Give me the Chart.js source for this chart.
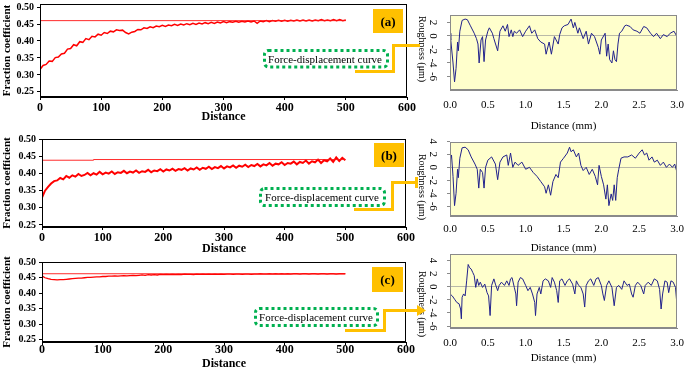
<!DOCTYPE html>
<html>
<head>
<meta charset="utf-8">
<script src="https://cdn.jsdelivr.net/npm/chart.js@4.4.1/dist/chart.umd.min.js"></script>
<style>
  body { margin: 0; background: #fff; }
  #wrap { position: relative; width: 685px; height: 371px; overflow: hidden; background: #fff; }
  #wrap canvas { position: absolute; }
  #wrap svg { position: absolute; left: 0; top: 0; }
</style>
</head>
<body>
<div id="wrap">
  <canvas id="fricA" width="420" height="125" style="left:0;top:0"></canvas>
  <canvas id="fricB" width="420" height="128" style="left:0;top:128px"></canvas>
  <canvas id="fricC" width="420" height="116" style="left:0;top:255px"></canvas>
  <canvas id="roughA" width="270" height="134" style="left:415px;top:0"></canvas>
  <canvas id="roughB" width="270" height="122" style="left:415px;top:134px"></canvas>
  <canvas id="roughC" width="270" height="121" style="left:415px;top:250px"></canvas>

  <svg width="685" height="371" font-family="'Liberation Serif', serif">
    <!-- orange connectors -->
    <g fill="none" stroke="#FFC000" stroke-width="3">
      <polyline points="355,71.5 393.5,71.5 393.5,45.5 420,45.5"/>
      <polyline points="354,209.5 392.5,209.5 392.5,182.5 416,182.5"/>
      <line x1="416.5" y1="177" x2="416.5" y2="188"/>
      <polyline points="345,330.5 384.5,330.5 384.5,310.5 418,310.5"/>
    </g>
    <polygon points="417,305 426,310.5 417,316" fill="#FFC000"/>

    <!-- dotted callouts -->
    <g fill="#fff" stroke="#00B050" stroke-width="3" stroke-dasharray="3 3">
      <rect x="264.5" y="50.5" width="123" height="16.5" rx="4"/>
      <rect x="260.5" y="188.5" width="124" height="17" rx="4"/>
      <rect x="255.5" y="308.5" width="122" height="17" rx="4"/>
    </g>
    <g font-size="11" fill="#000" text-anchor="middle">
      <text x="325" y="62.5">Force-displacement curve</text>
      <text x="322" y="200.5">Force-displacement curve</text>
      <text x="316" y="320.5">Force-displacement curve</text>
    </g>

    <!-- panel tags -->
    <g fill="#FFC000">
      <rect x="373" y="9" width="30" height="24"/>
      <rect x="374" y="143" width="30" height="24"/>
      <rect x="372" y="267" width="31" height="25"/>
    </g>
    <g font-size="13" font-weight="bold" fill="#000" text-anchor="middle">
      <text x="388" y="25.5">(a)</text>
      <text x="389" y="159.5">(b)</text>
      <text x="387.5" y="284">(c)</text>
    </g>
  </svg>
</div>

<script>
// ---------------------------------------------------------------------------
// friction data (left column)
// ---------------------------------------------------------------------------
const frictionDist = [
  0, 5, 10, 15, 20, 25, 30, 35, 40, 45, 50, 55, 60, 65, 70, 75, 80, 85, 90, 95,
  100, 105, 110, 115, 120, 125, 130, 135, 140, 145, 150, 155, 160, 165, 170, 175, 180, 185, 190, 195,
  200, 205, 210, 215, 220, 225, 230, 235, 240, 245, 250, 255, 260, 265, 270, 275, 280, 285, 290, 295,
  300, 305, 310, 315, 320, 325, 330, 335, 340, 345, 350, 355, 360, 365, 370, 375, 380, 385, 390, 395,
  400, 405, 410, 415, 420, 425, 430, 435, 440, 445, 450, 455, 460, 465, 470, 475, 480, 485, 490, 495,
  500
];

const frictionA = [
  0.316, 0.328, 0.331, 0.341, 0.340, 0.351, 0.353, 0.362, 0.364, 0.376, 0.378, 0.389, 0.386, 0.398, 0.396, 0.407, 0.404, 0.414, 0.412, 0.420,
  0.417, 0.425, 0.422, 0.429, 0.427, 0.433, 0.431, 0.432, 0.425, 0.421, 0.426, 0.428, 0.434, 0.433, 0.439, 0.437, 0.442, 0.439, 0.444, 0.442,
  0.446, 0.443, 0.447, 0.445, 0.449, 0.446, 0.450, 0.447, 0.451, 0.448, 0.452, 0.449, 0.453, 0.450, 0.454, 0.451, 0.455, 0.452, 0.456, 0.453,
  0.457, 0.454, 0.457, 0.455, 0.458, 0.455, 0.458, 0.456, 0.459, 0.456, 0.459, 0.452, 0.459, 0.457, 0.460, 0.457, 0.460, 0.458, 0.461, 0.458,
  0.461, 0.458, 0.461, 0.459, 0.462, 0.459, 0.462, 0.459, 0.462, 0.459, 0.462, 0.460, 0.463, 0.460, 0.462, 0.460, 0.463, 0.460, 0.463, 0.460,
  0.462
];

const frictionB = [
  0.330, 0.350, 0.361, 0.371, 0.378, 0.380, 0.387, 0.383, 0.393, 0.388, 0.395, 0.391, 0.399, 0.393, 0.396, 0.402, 0.395, 0.401, 0.397, 0.405,
  0.398, 0.403, 0.400, 0.406, 0.399, 0.404, 0.402, 0.408, 0.401, 0.406, 0.403, 0.409, 0.402, 0.407, 0.405, 0.411, 0.404, 0.409, 0.407, 0.413,
  0.406, 0.412, 0.409, 0.414, 0.408, 0.413, 0.411, 0.416, 0.409, 0.415, 0.412, 0.418, 0.411, 0.417, 0.414, 0.420, 0.413, 0.419, 0.416, 0.422,
  0.415, 0.421, 0.418, 0.424, 0.417, 0.423, 0.420, 0.426, 0.419, 0.425, 0.422, 0.428, 0.421, 0.427, 0.424, 0.431, 0.423, 0.429, 0.427, 0.433,
  0.425, 0.431, 0.429, 0.435, 0.427, 0.434, 0.431, 0.438, 0.429, 0.436, 0.433, 0.441, 0.431, 0.439, 0.436, 0.444, 0.434, 0.447, 0.437, 0.446,
  0.439
];

const frictionC = [
  0.456, 0.450, 0.447, 0.445, 0.444, 0.443, 0.444, 0.444, 0.445, 0.446, 0.447, 0.448, 0.449, 0.449, 0.450, 0.451, 0.451, 0.452, 0.453, 0.453,
  0.454, 0.454, 0.455, 0.455, 0.456, 0.455, 0.456, 0.457, 0.456, 0.457, 0.458, 0.457, 0.458, 0.459, 0.458, 0.460, 0.459, 0.460, 0.459, 0.461,
  0.460, 0.461, 0.460, 0.461, 0.460, 0.461, 0.460, 0.462, 0.461, 0.461, 0.460, 0.462, 0.461, 0.462, 0.461, 0.462, 0.461, 0.462, 0.461, 0.462,
  0.461, 0.462, 0.462, 0.461, 0.462, 0.462, 0.461, 0.462, 0.462, 0.461, 0.462, 0.462, 0.463, 0.462, 0.462, 0.463, 0.462, 0.463, 0.462, 0.463,
  0.462, 0.463, 0.462, 0.463, 0.463, 0.462, 0.463, 0.463, 0.462, 0.463, 0.463, 0.462, 0.463, 0.463, 0.462, 0.463, 0.463, 0.462, 0.463, 0.463,
  0.463
];

// thin reference lines
const refDistA = [0, 500];
const refA = [0.460, 0.460];
const refDistB = [0, 85, 85, 500];
const refB = [0.439, 0.439, 0.441, 0.441];
const refDistC = [0, 500];
const refC = [0.463, 0.463];

const frictionXTicks = [0, 100, 200, 300, 400, 500, 600];
const frictionYTicks = [0.25, 0.30, 0.35, 0.40, 0.45, 0.50];

// ---------------------------------------------------------------------------
// roughness profiles (right column)
// ---------------------------------------------------------------------------
const roughDistA = [
  0.00, 0.01, 0.04, 0.06, 0.08, 0.10, 0.11, 0.13, 0.16, 0.20, 0.23, 0.27, 0.32, 0.35, 0.37, 0.385, 0.41, 0.43, 0.45, 0.47,
  0.50, 0.52, 0.56, 0.58, 0.63, 0.66, 0.70, 0.73, 0.76, 0.78, 0.81, 0.83, 0.85, 0.88, 0.92, 0.96, 1.00, 1.05, 1.08, 1.12,
  1.16, 1.20, 1.25, 1.27, 1.31, 1.34, 1.38, 1.43, 1.45, 1.48, 1.51, 1.56, 1.60, 1.63, 1.65, 1.69, 1.71, 1.76, 1.80, 1.83,
  1.87, 1.91, 1.96, 1.98, 2.00, 2.05, 2.07, 2.09, 2.11, 2.14, 2.16, 2.18, 2.20, 2.22, 2.24, 2.27, 2.31, 2.33, 2.38, 2.42,
  2.47, 2.51, 2.56, 2.60, 2.65, 2.69, 2.73, 2.78, 2.82, 2.87, 2.91, 2.96, 3.00
];
const roughA = [
  0.4, -0.6, -4.0, -6.8, -4.8, -0.9, -2.2, 0.7, 2.3, 2.5, 2.4, 1.5, 0.4, -0.4, -1.2, -4.0, -0.6, -0.1, -3.8, -0.6,
  0.7, 1.2, 0.4, -0.4, -2.2, 0.7, 1.5, 0.7, 1.7, -0.1, 0.9, -0.1, 0.7, 0.4, 0.9, -0.1, 0.7, 1.5, 0.4, 0.9,
  -0.4, -0.9, -1.2, -2.7, -0.9, -2.7, -0.1, -1.2, 0.2, 1.2, 1.5, 1.7, 2.5, 1.2, 2.0, 0.4, 1.2, -0.4, 0.7, -1.2,
  0.4, -0.1, -1.7, -2.7, -0.6, 0.4, -3.0, -1.2, -3.5, -4.0, -2.2, -3.5, -3.8, -1.2, 0.4, 0.7, 1.5, 1.6, 1.4, 0.9,
  0.7, 0.4, 1.4, 1.2, 0.4, -0.1, 0.4, -0.4, 0.2, -0.1, 0.4, 0.7, -0.1
];

const roughDistB = [
  0.00, 0.02, 0.04, 0.06, 0.08, 0.10, 0.11, 0.13, 0.16, 0.20, 0.24, 0.28, 0.33, 0.36, 0.38, 0.40, 0.43, 0.45, 0.47, 0.50,
  0.55, 0.60, 0.63, 0.66, 0.70, 0.75, 0.77, 0.80, 0.83, 0.86, 0.90, 0.95, 1.00, 1.05, 1.10, 1.15, 1.20, 1.25, 1.27, 1.30,
  1.33, 1.36, 1.40, 1.43, 1.46, 1.50, 1.55, 1.58, 1.60, 1.63, 1.67, 1.70, 1.73, 1.76, 1.80, 1.84, 1.88, 1.92, 1.95, 1.97,
  2.00, 2.03, 2.06, 2.08, 2.10, 2.13, 2.15, 2.17, 2.19, 2.21, 2.23, 2.26, 2.30, 2.35, 2.40, 2.45, 2.50, 2.54, 2.57, 2.60,
  2.63, 2.67, 2.70, 2.74, 2.78, 2.82, 2.86, 2.90, 2.94, 2.97, 3.00
];
const roughB = [
  0.8, 1.9, -1.4, -5.9, -4.0, -0.3, -1.6, 1.4, 3.0, 3.1, 2.7, 1.6, 0.5, -0.3, -3.2, -0.3, -0.8, -3.2, 0.0, 1.1,
  1.6, 0.5, -1.9, 0.8, 1.6, 1.9, 0.3, 2.2, 0.0, 0.8, 0.3, 0.8, -0.3, 0.0, -0.8, -1.4, -2.2, -3.0, -4.0, -2.7,
  -4.3, -2.2, -1.1, -1.6, 0.8, 1.4, 2.2, 3.1, 2.4, 2.7, 1.6, 2.2, 0.3, -0.5, 0.0, -1.1, -0.3, -1.4, -2.7, 0.3,
  -1.4, -2.7, -4.9, -2.7, -5.9, -4.1, -5.1, -2.7, -5.1, -1.6, -0.3, 1.4, 1.6, 1.6, 1.9, 1.4, 2.2, 2.7, 1.9, 2.2,
  1.1, 1.6, 0.8, 1.1, 0.3, 0.8, 0.0, 0.5, 0.0, 0.5, -0.8
];

const roughDistC = [
  0.00, 0.03, 0.06, 0.09, 0.12, 0.14, 0.15, 0.16, 0.18, 0.20, 0.22, 0.24, 0.26, 0.28, 0.30, 0.32, 0.34, 0.36, 0.38, 0.40,
  0.43, 0.46, 0.49, 0.51, 0.53, 0.55, 0.58, 0.60, 0.63, 0.65, 0.68, 0.72, 0.75, 0.78, 0.80, 0.82, 0.85, 0.87, 0.88, 0.90,
  0.93, 0.96, 1.00, 1.03, 1.06, 1.09, 1.12, 1.13, 1.15, 1.18, 1.20, 1.23, 1.26, 1.30, 1.33, 1.35, 1.38, 1.41, 1.43, 1.45,
  1.48, 1.52, 1.55, 1.58, 1.62, 1.65, 1.67, 1.70, 1.73, 1.76, 1.78, 1.80, 1.83, 1.86, 1.90, 1.93, 1.96, 2.00, 2.02, 2.04,
  2.07, 2.10, 2.14, 2.17, 2.20, 2.23, 2.27, 2.30, 2.34, 2.37, 2.40, 2.42, 2.45, 2.48, 2.52, 2.56, 2.58, 2.62, 2.66, 2.70,
  2.74, 2.77, 2.79, 2.81, 2.84, 2.87, 2.89, 2.92, 2.95, 2.98, 3.00
];
const roughC = [
  -1.1, -1.4, -1.9, -2.4, -2.6, -3.4, -4.9, -1.6, -1.1, -1.4, 0.9, 3.4, 2.9, 2.7, 2.2, 1.7, -0.1, 1.2, 0.2, 0.7,
  -0.1, 0.4, -0.9, -1.4, -4.4, 0.2, 1.2, 0.4, -0.6, 0.2, 0.7, 0.2, 0.9, 0.2, 1.2, 1.4, -0.1, -1.1, -2.9, 0.7,
  1.4, 1.2, 0.2, -0.6, -0.1, -1.1, -2.4, -4.4, -1.1, -0.1, -1.1, 0.9, 1.2, 0.9, -0.1, 1.4, 0.7, -0.6, -2.4, 0.9,
  1.2, 0.2, 0.9, 1.2, 0.4, -1.1, 0.9, 0.2, -0.1, -1.1, -3.1, 0.2, 0.9, 1.2, 0.2, 1.2, 1.4, 0.2, -1.1, -2.1,
  0.2, 0.9, -0.1, -2.9, -0.1, 0.2, -0.4, 0.9, 0.2, 0.4, -1.1, -1.6, 0.2, 0.7, 0.2, -1.1, 0.2, 0.7, 0.2, 1.2,
  0.9, -0.4, -3.4, -1.1, 0.9, 0.7, -0.9, 0.9, 0.7, -0.1, -2.9
];

const roughXTicks = [0, 0.5, 1.0, 1.5, 2.0, 2.5, 3.0];
const roughYTicksA = [2, 0, -2, -4, -6];
const roughYTicksBC = [4, 2, 0, -2, -4, -6];

// ---------------------------------------------------------------------------
// helpers / plugins
// ---------------------------------------------------------------------------
const SERIF = "'Liberation Serif', 'Times New Roman', serif";

function toPoints(xs, ys) {
    return xs.map((x, i) => ({ x: x, y: ys[i] }));
}

const framePlugin = {
    id: 'frame',
    beforeDraw(chart, args, opts) {
        if (!opts.fill) return;
        const a = chart.chartArea;
        const ctx = chart.ctx;
        ctx.save();
        ctx.fillStyle = opts.fill;
        ctx.fillRect(a.left, a.top, a.right - a.left, a.bottom - a.top);
        ctx.restore();
    },
    afterDraw(chart, args, opts) {
        const a = chart.chartArea;
        const ctx = chart.ctx;
        ctx.save();
        ctx.strokeStyle = opts.color || '#000';
        ctx.lineWidth = 1;
        ctx.strokeRect(Math.round(a.left) + 0.5, Math.round(a.top) + 0.5,
            Math.round(a.right - a.left) - 1, Math.round(a.bottom - a.top) - 1);
        ctx.restore();
    }
};

// vertical (clockwise) labels for the roughness axes
const sideLabelPlugin = {
    id: 'sideLabels',
    afterDraw(chart, args, opts) {
        if (!opts.ticks) return;
        const ctx = chart.ctx;
        const y = chart.scales.y;
        ctx.save();
        ctx.fillStyle = '#000';
        ctx.textAlign = 'center';
        ctx.textBaseline = 'middle';
        ctx.font = '11px ' + SERIF;
        opts.ticks.forEach(v => {
            ctx.save();
            ctx.translate(opts.tickX, y.getPixelForValue(v));
            ctx.rotate(Math.PI / 2);
            ctx.fillText(String(v), 0, 0);
            ctx.restore();
        });
        ctx.font = '10px ' + SERIF;
        ctx.translate(opts.titleX, opts.titleY);
        ctx.rotate(Math.PI / 2);
        ctx.fillText('Roughness (\u03bcm)', 0, 0);
        ctx.restore();
    }
};

Chart.register(framePlugin, sideLabelPlugin);

function renderFrictionChart(canvasId, values, refDist, refValues, cfg) {
    const ctx = document.getElementById(canvasId).getContext('2d');
    return new Chart(ctx, {
        type: 'line',
        data: {
            datasets: [{
                data: toPoints(refDist, refValues),
                borderColor: 'rgba(255, 20, 20, 0.9)',
                borderWidth: 1,
                pointRadius: 0,
                tension: 0
            }, {
                data: toPoints(frictionDist, values),
                borderColor: 'rgb(255, 0, 0)',
                borderWidth: cfg.lineWidth,
                pointRadius: 0,
                tension: 0
            }]
        },
        options: {
            responsive: false,
            animation: false,
            events: [],
            layout: { padding: { left: 0, top: cfg.padTop, right: cfg.padRight, bottom: 0 } },
            plugins: {
                legend: { display: false },
                tooltip: { enabled: false },
                frame: { color: '#000' },
                sideLabels: {}
            },
            scales: {
                x: {
                    type: 'linear',
                    min: 0,
                    max: 600,
                    afterBuildTicks: s => { s.ticks = frictionXTicks.map(v => ({ value: v })); },
                    afterFit: s => { s.height = cfg.xAxisH; s.paddingLeft = 0; s.paddingRight = 0; },
                    grid: { drawOnChartArea: false, drawTicks: true, tickLength: 3, color: '#000' },
                    border: { color: '#000' },
                    ticks: {
                        color: '#000',
                        padding: cfg.tickPad,
                        maxRotation: 0,
                        font: { family: SERIF, size: 12, weight: 'bold' },
                        callback: v => String(v)
                    },
                    title: {
                        display: true,
                        text: 'Distance',
                        color: '#000',
                        padding: { top: 0, bottom: cfg.titlePad },
                        font: { family: SERIF, size: 12, weight: 'bold' }
                    }
                },
                y: {
                    min: cfg.yMin,
                    max: cfg.yMax,
                    afterBuildTicks: s => { s.ticks = frictionYTicks.map(v => ({ value: v })); },
                    afterFit: s => { s.width = cfg.yAxisW; s.paddingTop = 0; s.paddingBottom = 0; },
                    grid: { drawOnChartArea: false, drawTicks: true, tickLength: 3, color: '#000' },
                    border: { color: '#000' },
                    ticks: {
                        color: '#000',
                        padding: 3,
                        font: { family: SERIF, size: 10, weight: 'bold' },
                        callback: v => v.toFixed(2)
                    },
                    title: {
                        display: true,
                        text: 'Fraction coefficient',
                        color: '#000',
                        padding: { top: 1, bottom: 0 },
                        font: { family: SERIF, size: 11, weight: 'bold' }
                    }
                }
            }
        }
    });
}

function renderRoughnessChart(canvasId, dist, values, yTicks, cfg) {
    const ctx = document.getElementById(canvasId).getContext('2d');
    return new Chart(ctx, {
        type: 'line',
        data: {
            datasets: [{
                data: toPoints(dist, values),
                borderColor: '#22228c',
                borderWidth: 1,
                pointRadius: 0,
                tension: 0
            }]
        },
        options: {
            responsive: false,
            animation: false,
            events: [],
            layout: { padding: { left: 0, top: cfg.padTop, right: cfg.padRight, bottom: 0 } },
            plugins: {
                legend: { display: false },
                tooltip: { enabled: false },
                frame: { color: '#8a8a8a', fill: '#ffffcc' },
                sideLabels: { ticks: yTicks, tickX: 18, titleX: 7, titleY: cfg.labelY }
            },
            scales: {
                x: {
                    type: 'linear',
                    min: 0,
                    max: 3,
                    afterBuildTicks: s => { s.ticks = roughXTicks.map(v => ({ value: v })); },
                    afterFit: s => { s.height = cfg.xAxisH; s.paddingLeft = 0; s.paddingRight = 0; },
                    grid: { display: false, drawTicks: false },
                    border: { color: '#8a8a8a' },
                    ticks: {
                        color: '#000',
                        padding: cfg.tickPad,
                        maxRotation: 0,
                        font: { family: SERIF, size: 11 },
                        callback: v => v.toFixed(1)
                    },
                    title: {
                        display: true,
                        text: 'Distance (mm)',
                        color: '#000',
                        padding: { top: 0, bottom: cfg.titlePad },
                        font: { family: SERIF, size: 11 }
                    }
                },
                y: {
                    min: cfg.yMin,
                    max: cfg.yMax,
                    afterBuildTicks: s => { s.ticks = yTicks.map(v => ({ value: v })); },
                    afterFit: s => { s.width = 35; s.paddingTop = 0; s.paddingBottom = 0; },
                    grid: {
                        drawTicks: true,
                        tickLength: 3,
                        tickColor: '#8a8a8a',
                        color: c => (c.tick && c.tick.value === 0) ? '#b9b9a8' : 'rgba(0,0,0,0)'
                    },
                    border: { color: '#8a8a8a' },
                    ticks: { display: false }
                }
            }
        }
    });
}

// ---------------------------------------------------------------------------
// render
// ---------------------------------------------------------------------------
renderFrictionChart('fricA', frictionA, refDistA, refA,
    { yMin: 0.235, yMax: 0.509, padTop: 4, padRight: 13, yAxisW: 40, xAxisH: 28, tickPad: 1, titlePad: 1, lineWidth: 1.5 });
renderFrictionChart('fricB', frictionB, refDistB, refB,
    { yMin: 0.244, yMax: 0.501, padTop: 11, padRight: 14, yAxisW: 42, xAxisH: 29, tickPad: 1, titlePad: 0, lineWidth: 2 });
renderFrictionChart('fricC', frictionC, refDistC, refC,
    { yMin: 0.242, yMax: 0.501, padTop: 7, padRight: 14, yAxisW: 42, xAxisH: 29, tickPad: -2, titlePad: 0, lineWidth: 1.3 });

renderRoughnessChart('roughA', roughDistA, roughA, roughYTicksA,
    { yMin: -8, yMax: 3.1, padTop: 15, padRight: 8, xAxisH: 44, tickPad: 9, titlePad: 1, labelY: 49 });
renderRoughnessChart('roughB', roughDistB, roughB, roughYTicksBC,
    { yMin: -7.5, yMax: 3.9, padTop: 8, padRight: 8, xAxisH: 40, tickPad: 7, titlePad: 1, labelY: 53 });
renderRoughnessChart('roughC', roughDistC, roughC, roughYTicksBC,
    { yMin: -6.3, yMax: 5.0, padTop: 4, padRight: 8, xAxisH: 43, tickPad: 9, titlePad: 6, labelY: 54 });
</script>
</body>
</html>
